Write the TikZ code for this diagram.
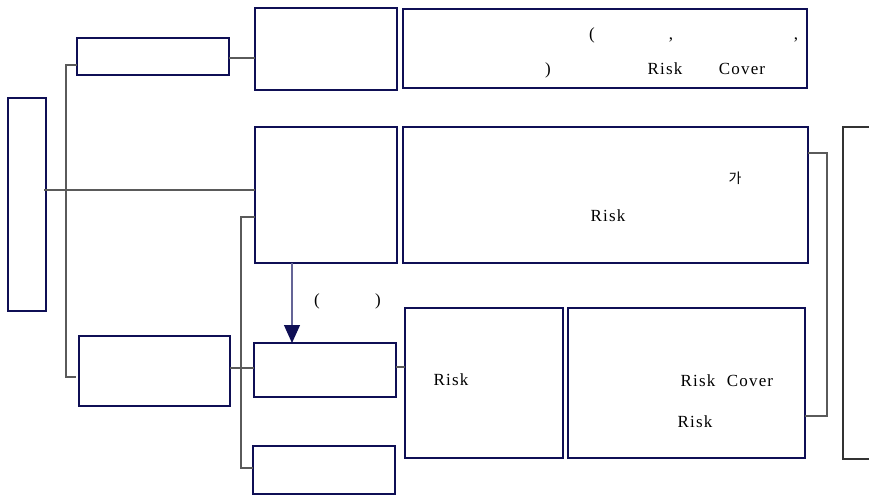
\documentclass[tikz,border=0pt]{standalone}
\usepackage{fontspec}
\setmainfont{Liberation Serif}
\newfontfamily\tf[LetterSpace=7]{Liberation Serif}
\newfontfamily\kr{Noto Sans CJK KR}
\usetikzlibrary{arrows.meta}
\definecolor{navy}{RGB}{15,15,85}
\definecolor{conn}{RGB}{90,90,90}
\definecolor{shaft}{RGB}{100,100,150}
\tikzset{
  box/.style={draw=navy, line width=1.1pt, inner sep=0pt, outer sep=0pt, anchor=north west},
  darkbox/.style={draw=black!80, line width=1.1pt, inner sep=0pt, outer sep=0pt, anchor=north west},
  link/.style={draw=conn, line width=1.1pt},
  txt/.style={inner sep=0pt, anchor=base, font=\tf\fontsize{17}{19}\selectfont},
  down/.style={draw=shaft, line width=1.2pt, -{Triangle[length=18pt,width=16pt,color=navy,fill=navy]}}
}
\begin{document}
\begin{tikzpicture}[x=1pt,y=-1pt]
\useasboundingbox (0,0) rectangle (869,496);
\clip (0,0) rectangle (869,496);
% boxes
\node[box, minimum width=38pt, minimum height=213pt] (L) at (8,98) {};
\node[box, minimum width=152pt, minimum height=37pt] (A) at (77,38) {};
\node[box, minimum width=142pt, minimum height=82pt] (B) at (255,8) {};
\node[box, minimum width=404pt, minimum height=79pt] (C) at (403,9) {};
\node[box, minimum width=142pt, minimum height=136pt] (D) at (255,127) {};
\node[box, minimum width=405pt, minimum height=136pt] (E) at (403,127) {};
\node[darkbox, minimum width=60pt, minimum height=332pt] (F) at (843,127) {};
\node[box, minimum width=151pt, minimum height=70pt] (G) at (79,336) {};
\node[box, minimum width=142pt, minimum height=54pt] (H) at (254,343) {};
\node[box, minimum width=142pt, minimum height=48pt] (I) at (253,446) {};
\node[box, minimum width=158pt, minimum height=150pt] (J) at (405,308) {};
\node[box, minimum width=237pt, minimum height=150pt] (K) at (568,308) {};
% helper coordinates
\coordinate (t1) at (44,190);
\coordinate (s1) at (66,65);
\coordinate (s2) at (66,377);
\coordinate (ab) at (229,58);
\coordinate (s3) at (241,217);
\coordinate (s4) at (241,468);
\coordinate (gh) at (230,368);
\coordinate (hj) at (396,367);
\coordinate (ar) at (292,0);
\coordinate (b1) at (827,153);
\coordinate (b2) at (827,416);
% connectors
\draw[link] (t1) -- (t1 -| D.west);
\draw[link] (s1 -| A.west) -- (s1) -- (s2) -- ([xshift=-3pt]s2 -| G.west);
\draw[link] (ab) -- (ab -| B.west);
\draw[link] (s3 -| D.west) -- (s3) -- (s4) -- (s4 -| I.west);
\draw[link] (gh) -- (gh -| H.west);
\draw[link] (hj) -- (hj -| J.west);
\draw[link] (b1 -| E.east) -- (b1) -- (b2) -- (b2 -| K.east);
\draw[down] (ar |- D.south) -- (ar |- H.north);
% texts
\node[txt] (c1) at (592,39) {(};
\node[txt] (c2) at (671,39) {,};
\node[txt] (c3) at (796,39) {,};
\node[txt] (c4) at (548,74) {)};
\node[txt] (c5) at (665,74) {Risk};
\node[txt] (c6) at (742,74) {Cover};
\node[inner sep=0pt, anchor=base, font=\kr\fontsize{14}{16}\selectfont] (e1) at (735,183) {가};
\node[txt] (e2) at (608,221) {Risk};
\node[txt] (p1) at (317,305) {(};
\node[txt] (p2) at (378,305) {)};
\node[txt] (j1) at (451,385) {Risk};
\node[txt] (k1) at (698,386) {Risk};
\node[txt] (k2) at (750,386) {Cover};
\node[txt] (k3) at (695,427) {Risk};
\end{tikzpicture}
\end{document}
